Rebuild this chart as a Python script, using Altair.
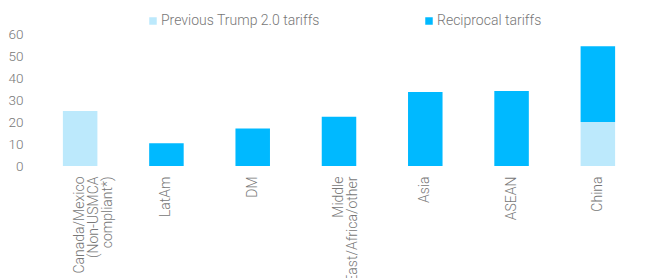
import altair as alt
import pandas as pd

categories = [
    "Canada/Mexico\n(Non-USMCA\ncompliant*)",
    "LatAm",
    "DM",
    "Middle\nEast/Africa/other",
    "Asia",
    "ASEAN",
    "China",
]
previous = [25, 0, 0, 0, 0, 0, 20]
reciprocal = [0, 10.3, 17.1, 22.4, 33.6, 34.1, 34.4]
series = ["Previous Trump 2.0 tariffs", "Reciprocal tariffs"]
colors = ["#BCE9FC", "#00B9FF"]
y_ticks = [0, 10, 20, 30, 40, 50, 60]

rows = []
for c, p, r in zip(categories, previous, reciprocal):
    rows.append({"cat": c, "series": series[0], "value": p, "ord": 0})
    rows.append({"cat": c, "series": series[1], "value": r, "ord": 1})
df = pd.DataFrame(rows)

FONT = "Roboto"
GREY = "#777777"

chart = (
    alt.Chart(df)
    .mark_bar()
    .encode(
        x=alt.X(
            "cat:N",
            sort=categories,
            scale=alt.Scale(paddingInner=0.6, paddingOuter=0.3),
            axis=alt.Axis(
                title=None,
                labelAngle=-90,
                labelExpr="split(datum.label, '\\n')",
                labelFont=FONT,
                labelFontWeight=300,
                labelFontSize=14,
                labelColor=GREY,
                labelLineHeight=14,
                labelPadding=10,
                domain=False,
                ticks=False,
                labelLimit=300,
            ),
        ),
        y=alt.Y(
            "value:Q",
            stack="zero",
            scale=alt.Scale(domain=[0, 60], nice=False),
            axis=alt.Axis(
                title=None,
                values=y_ticks,
                labelFont=FONT,
                labelFontWeight=300,
                labelFontSize=13.5,
                labelColor=GREY,
                labelPadding=14,
                domain=False,
                ticks=False,
                grid=False,
            ),
        ),
        color=alt.Color(
            "series:N",
            scale=alt.Scale(domain=series, range=colors),
            legend=alt.Legend(
                title=None,
                orient="none",
                legendX=109,
                legendY=-20,
                direction="horizontal",
                columns=2,
                columnPadding=102,
                symbolType="square",
                symbolSize=56,
                symbolStrokeWidth=0,
                labelOffset=1,
                labelFont=FONT,
                labelFontWeight=300,
                labelFontSize=14,
                labelColor=GREY,
                labelLimit=300,
            ),
        ),
        order=alt.Order("ord:Q"),
    )
    .properties(
        width=604,
        height=132,
        padding={"top": 6, "left": 0, "right": 0, "bottom": 0},
    )
    .configure_view(stroke=None)
)

chart.save("out.html", embed_options={"renderer": "svg", "actions": False})
